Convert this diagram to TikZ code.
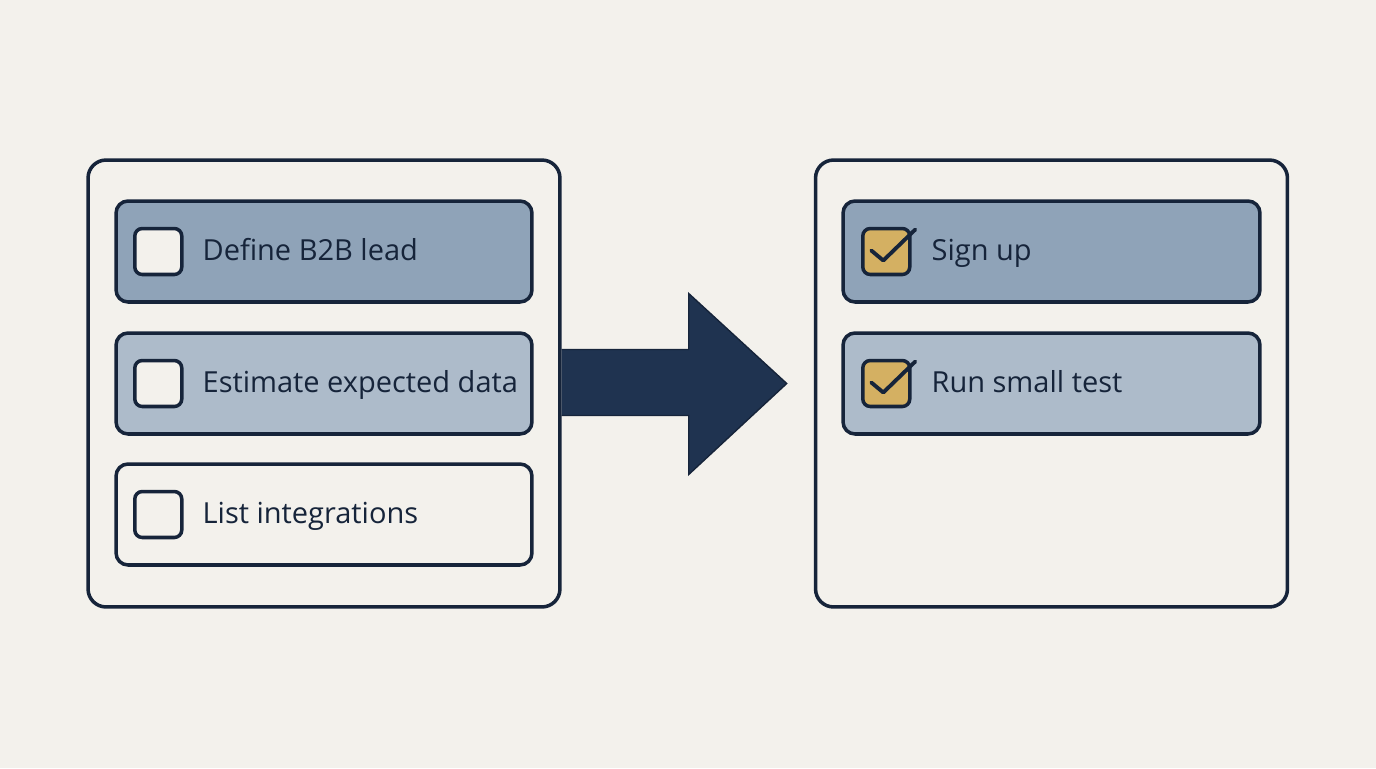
\documentclass[tikz,border=0pt]{standalone}
\usepackage{fontspec}
\setmainfont{Open Sans}
\usetikzlibrary{calc,positioning}

\definecolor{ink}{HTML}{16243A}
\definecolor{paper}{HTML}{F3F1EC}
\definecolor{rowdark}{HTML}{8FA3B8}
\definecolor{rowlight}{HTML}{ADBBCA}
\definecolor{gold}{HTML}{D4B062}
\definecolor{arrowfill}{HTML}{1F3350}

\tikzset{
  panel/.style={draw=ink, line width=2pt, fill=paper, rounded corners=0.36cm,
    minimum width=9.44cm, minimum height=8.94cm},
  task/.style={draw=ink, line width=2pt, rounded corners=0.24cm,
    minimum width=8.32cm, minimum height=2.02cm},
  tickbox/.style={draw=ink, line width=2pt, rounded corners=0.15cm,
    minimum width=0.94cm, minimum height=0.92cm},
  label/.style={text=ink, anchor=base west, inner sep=0pt, font=\fontsize{16.5}{19}\selectfont},
  tick/.style={draw=ink, line width=2.2pt, line cap=round, line join=round}
}

\begin{document}
\begin{tikzpicture}[x=0.02cm, y=-0.02cm]
  \fill[paper] (0,0) rectangle (1376,768);
  \useasboundingbox (0,0) rectangle (1376,768);

  % two panels
  \node[panel] (todo) at (324,383.5) {};
  \node[panel] (done) at (1051.5,383.5) {};

  % left list
  \node[task, fill=rowdark]  (define) at (324,251.5) {};
  \node[task, fill=rowlight] (estimate) at (324,383.5) {};
  \node[task, fill=paper]    (integr) at (324,514.5) {};
  \foreach \row/\txt in {define/Define B2B lead, estimate/Estimate expected data, integr/List integrations} {
    \node[tickbox, fill=paper] (\row-box) at ($(\row.west)+(44,0)$) {};
    \node[label] (\row-text) at ($(\row.west)+(88,8.5)$) {\txt};
  }

  % right list
  \node[task, fill=rowdark, minimum width=8.34cm]  (signup) at (1051.5,251.5) {};
  \node[task, fill=rowlight, minimum width=8.34cm] (runtest) at (1051.5,383.5) {};
  \foreach \row/\txt in {signup/Sign up, runtest/Run small test} {
    \node[tickbox, fill=gold] (\row-box) at ($(\row.west)+(45,0)$) {};
    \draw[tick] ($(\row-box)+(-15,-1)$) -- ($(\row-box)+(-3,9)$) -- ($(\row-box)+(29,-22)$);
    \node[label] (\row-text) at ($(\row.west)+(90,8.5)$) {\txt};
  }

  % big arrow
  \filldraw[fill=arrowfill, draw=ink, line width=0.8pt, line join=miter]
    ($(todo.east)+(0,-34)$) -- ($(todo.east)+(127,-34)$) -- ($(todo.east)+(127,-90)$)
    -- ($(todo.east)+(225,0)$) -- ($(todo.east)+(127,91)$) -- ($(todo.east)+(127,32)$)
    -- ($(todo.east)+(0,32)$);
\end{tikzpicture}
\end{document}
